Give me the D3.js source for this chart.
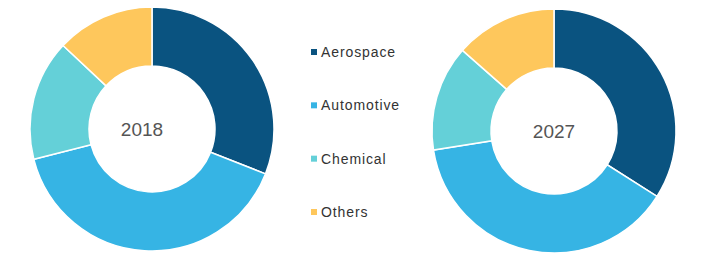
<!DOCTYPE html>
<html>
<head>
<meta charset="utf-8">
<script src="https://cdn.jsdelivr.net/npm/d3@7"></script>
<style>
  body { margin: 0; background: #fff; }
  svg { display: block; }
  .legend text { font-family: "Liberation Sans", Arial, sans-serif; font-size: 14px; letter-spacing: 0.9px; fill: #333; }
  .center-label { font-family: "Liberation Sans", Arial, sans-serif; font-size: 19px; fill: #555; }
</style>
</head>
<body>
<div id="chart"></div>
<script>
// categories and values (percent share)
const categories = ["Aerospace", "Automotive", "Chemical", "Others"];
const colors = ["#0a5380", "#36b4e4", "#64d0d8", "#fec75c"];
const years = ["2018", "2027"];
const values2018 = [31, 40, 16, 13];
const values2027 = [34, 38.5, 14, 13.5];

let width = 702, height = 266;

let svg = d3.select("#chart")
    .append("svg")
    .attr("width", width)
    .attr("height", height);

let color = d3.scaleOrdinal()
    .domain(categories)
    .range(colors);

let pie = d3.pie()
    .sort(null)
    .value(function(d){ return d.value; });

let arc = d3.arc()
    .innerRadius(63)
    .outerRadius(122);

let donuts = [
    {year: years[0], values: values2018, cx: 152, cy: 129, labelDx: -10},
    {year: years[1], values: values2027, cx: 554, cy: 131, labelDx: 0}
];

donuts.forEach(function(donut){
    let data = categories.map(function(c, i){ return {name: c, value: donut.values[i]}; });

    let g = svg.append("g")
        .attr("transform", "translate(" + donut.cx + "," + donut.cy + ")");

    g.selectAll("path")
        .data(pie(data))
        .enter()
        .append("path")
        .attr("d", arc)
        .attr("fill", function(d){ return color(d.data.name); })
        .attr("stroke", "#fff")
        .attr("stroke-width", 1.5);

    g.append("text")
        .attr("class", "center-label")
        .attr("x", donut.labelDx)
        .attr("y", 7)
        .style("text-anchor", "middle")
        .text(donut.year);
});

// legend
let legendY = d3.scalePoint()
    .domain(categories)
    .range([52, 212]);

let legend = svg.append("g")
    .attr("class", "legend")
    .selectAll("g")
    .data(categories)
    .enter()
    .append("g")
    .attr("transform", function(d){ return "translate(311," + legendY(d) + ")"; });

legend.append("rect")
    .attr("x", 0)
    .attr("y", -3)
    .attr("width", 6)
    .attr("height", 6)
    .attr("fill", function(d){ return color(d); });

legend.append("text")
    .attr("x", 10)
    .attr("y", 5)
    .text(function(d){ return d; });
</script>
</body>
</html>
